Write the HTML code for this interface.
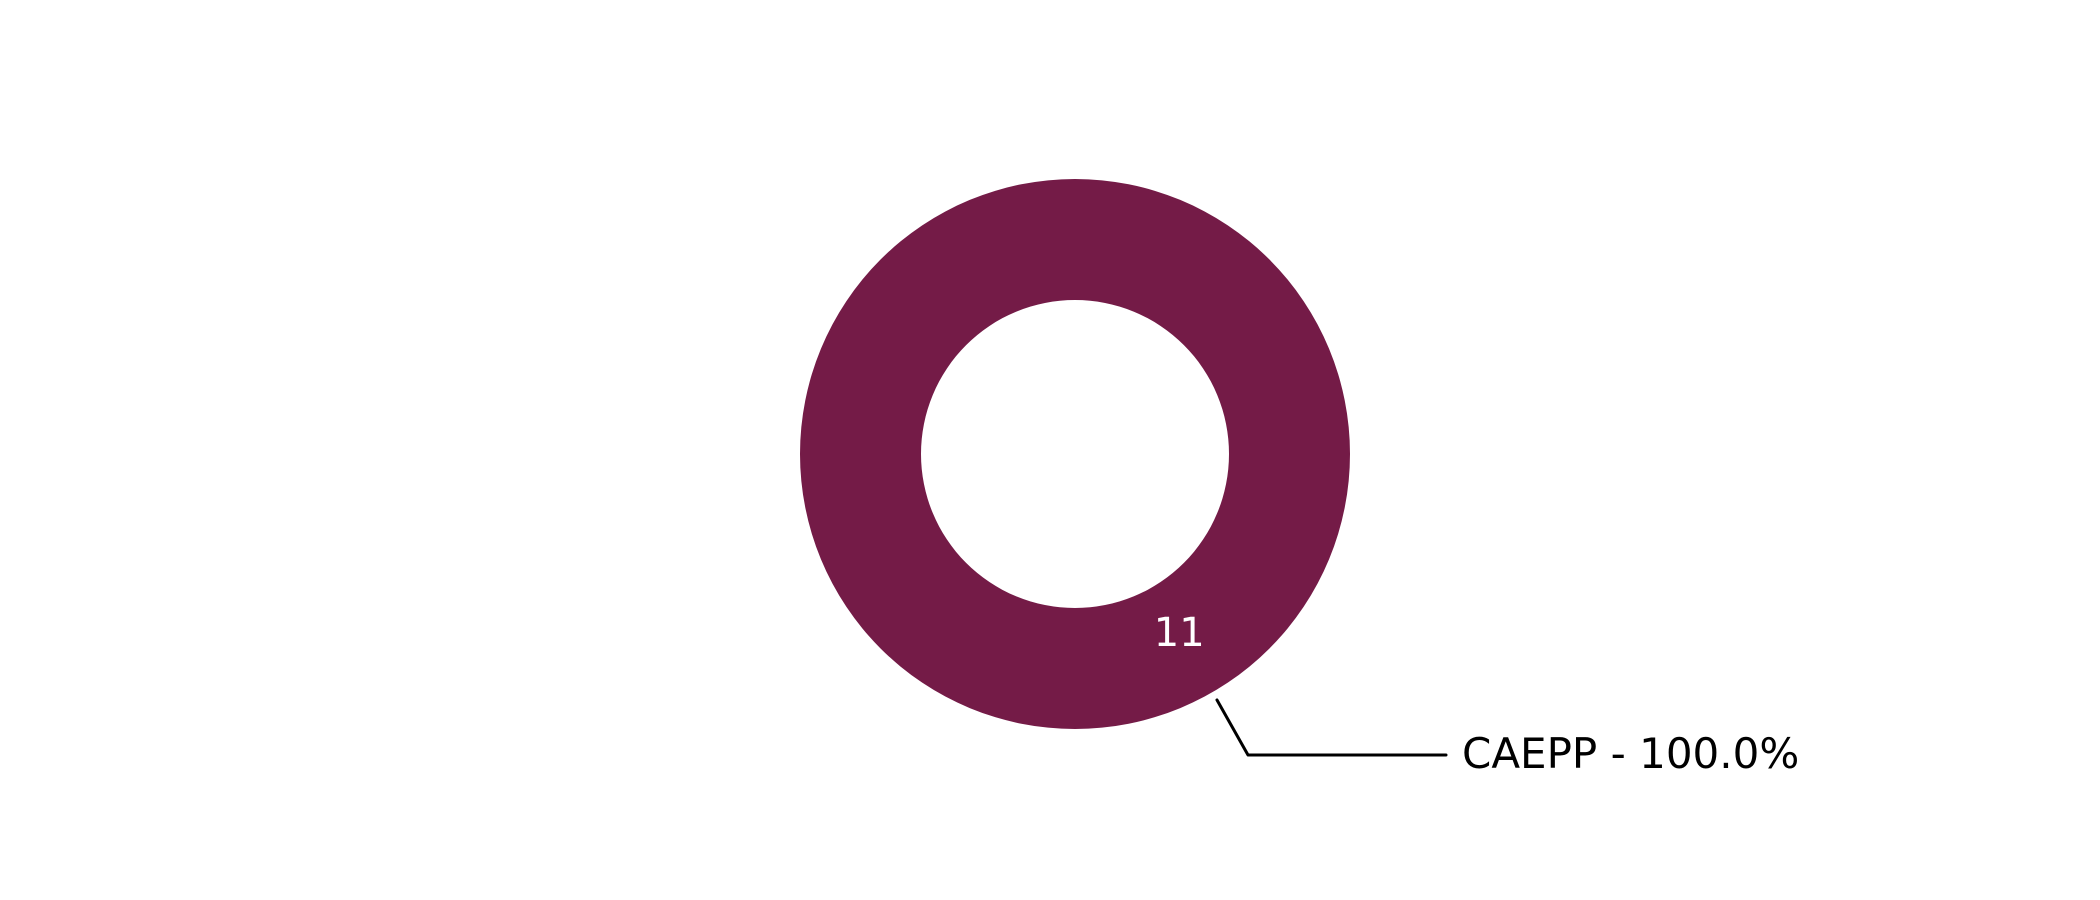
<!DOCTYPE html>
<html><head><meta charset="utf-8"><style>
html,body{margin:0;padding:0;background:#fff;}
svg{display:block;}
text{font-family:"DejaVu Sans","Liberation Sans",sans-serif;}
</style></head><body>
<svg id="chart" width="2100" height="900" viewBox="0 0 2100 900">
<rect width="2100" height="900" fill="#fff"/>
<g id="slices"></g>
<g id="labels"></g>
</svg>
<script>
const categories = ["CAEPP"];
const values = [11];
const colors = ["#741b47"];

const cx = 1075, cy = 454, rOuter = 275, rInner = 154;
const startAngle = 120;
const NS = "http://www.w3.org/2000/svg";
const total = values.reduce((a, b) => a + b, 0);
const slicesG = document.getElementById("slices");
const labelsG = document.getElementById("labels");

function pt(r, deg) {
  const a = deg * Math.PI / 180;
  return [cx + r * Math.cos(a), cy - r * Math.sin(a)];
}

let ang = startAngle;
values.forEach((v, i) => {
  const frac = v / total;
  const sweep = frac * 360;
  const a0 = ang, a1 = ang + sweep;
  let d;
  if (frac >= 0.9999) {
    const [ox, oy] = pt(rOuter, 0), [ox2, oy2] = pt(rOuter, 180);
    const [ix, iy] = pt(rInner, 0), [ix2, iy2] = pt(rInner, 180);
    d = `M${ox},${oy} A${rOuter},${rOuter} 0 1 0 ${ox2},${oy2} A${rOuter},${rOuter} 0 1 0 ${ox},${oy} Z ` +
        `M${ix},${iy} A${rInner},${rInner} 0 1 1 ${ix2},${iy2} A${rInner},${rInner} 0 1 1 ${ix},${iy} Z`;
  } else {
    const large = sweep > 180 ? 1 : 0;
    const [x0, y0] = pt(rOuter, a0), [x1, y1] = pt(rOuter, a1);
    const [x2, y2] = pt(rInner, a1), [x3, y3] = pt(rInner, a0);
    d = `M${x0},${y0} A${rOuter},${rOuter} 0 ${large} 0 ${x1},${y1} L${x2},${y2} A${rInner},${rInner} 0 ${large} 1 ${x3},${y3} Z`;
  }
  const p = document.createElementNS(NS, "path");
  p.setAttribute("d", d);
  p.setAttribute("fill", colors[i % colors.length]);
  p.setAttribute("fill-rule", "evenodd");
  
  
  slicesG.appendChild(p);

  const mid = a0 + sweep / 2;
  const [lx, ly] = pt((rOuter + rInner) / 2, mid);
  const t = document.createElementNS(NS, "text");
  t.setAttribute("x", lx - 3);
  t.setAttribute("y", ly + 6);
  t.setAttribute("text-anchor", "middle");
  t.setAttribute("font-size", "40");
  t.setAttribute("fill", "#fff");
  t.textContent = v;
  
  
  labelsG.appendChild(t);

  const [sx, sy] = pt(rOuter + 9, mid);
  const ex = sx + 31, ey = sy + 55;
  const hx = ex + 198;
  const line = document.createElementNS(NS, "polyline");
  line.setAttribute("points", `${sx},${sy} ${ex},${ey} ${hx},${ey}`);
  line.setAttribute("fill", "none");
  line.setAttribute("stroke", "#000");
  line.setAttribute("stroke-width", "3");
  line.setAttribute("stroke-linecap", "round");
  line.setAttribute("stroke-linejoin", "round");
  
  
  labelsG.appendChild(line);

  const lt = document.createElementNS(NS, "text");
  lt.setAttribute("x", hx + 16);
  lt.setAttribute("y", ey + 13);
  lt.setAttribute("font-size", "42");
  lt.setAttribute("fill", "#000");
  lt.textContent = categories[i] + " - " + (frac * 100).toFixed(1) + "%";
  
  
  labelsG.appendChild(lt);

  ang = a1;
});
</script>
</body></html>
